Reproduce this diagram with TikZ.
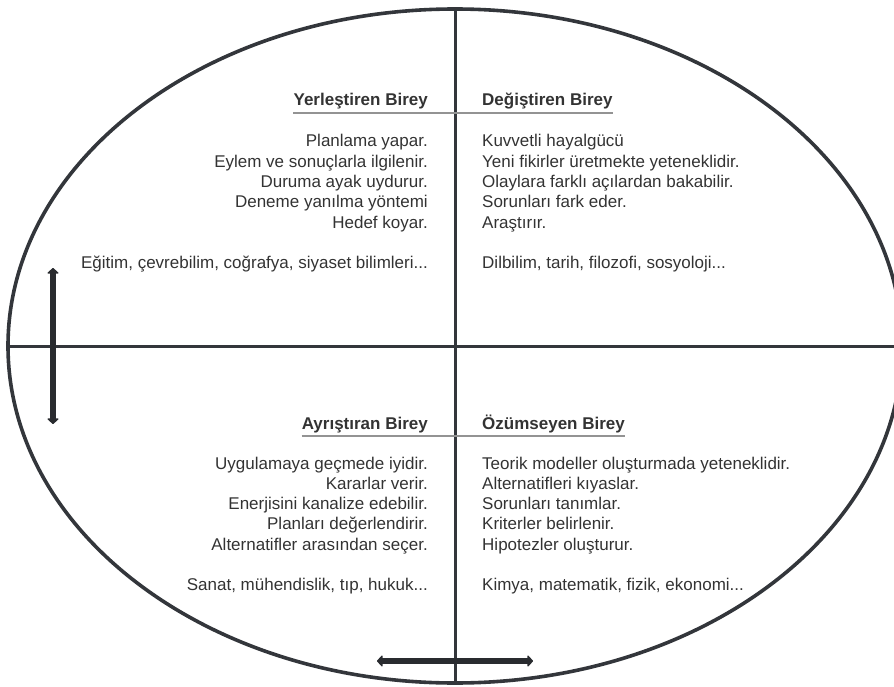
\documentclass[tikz,border=0pt]{standalone}
\usepackage{fontspec}
\setmainfont{Liberation Sans}
\usetikzlibrary{shapes.geometric,arrows.meta,calc}
\definecolor{ink}{HTML}{33363B}
\definecolor{txtgray}{HTML}{333333}
\newcommand{\tdots}{...}
\tikzset{
  hd/.style={font=\fontsize{17}{20}\selectfont\bfseries, text=txtgray, inner sep=0pt},
  txt/.style={font=\fontsize{17}{20}\selectfont, text=txtgray, inner sep=0pt},
  uline/.style={draw=gray!85, line width=1.5pt},
  axis/.style={draw=ink, line width=3pt},
  bar/.style={draw=ink!80!black, line width=6pt, {Triangle[round,length=6pt,width=13pt]}-{Triangle[round,length=6pt,width=13pt]}}
}
\begin{document}
\begin{tikzpicture}[x=1pt,y=-1pt]
		\useasboundingbox (0,0) rectangle (894,687);
		\clip (0,0) rectangle (894,687);
		\node[ellipse, draw=ink, line width=3.6pt, inner sep=0pt, minimum width=894pt, minimum height=674pt] (oval) at (455,346) {};
		\draw[axis] (oval.north) -- (oval.south);
		\draw[axis] (oval.west) -- (oval.east);
		% top quadrants
		\node[hd, anchor=base east] (hYer) at (428,106) {Yerleştiren Birey};
		\node[hd, anchor=base west] (hDeg) at (482,106) {Değiştiren Birey};
		\draw[uline] ($(hYer.base west)+(0,7)$) -- ($(oval.north)!(hYer.base west)!(oval.south)+(0,7)$);
		\draw[uline] ($(oval.north)!(hDeg.base east)!(oval.south)+(0,7)$) -- ($(hDeg.base east)+(0,7)$);
		\foreach \t [count=\i] in {Planlama yapar., Eylem ve sonuçlarla ilgilenir., Duruma ayak uydurur., Deneme yanılma yöntemi, Hedef koyar., {}, {Eğitim, çevrebilim, coğrafya, siyaset bilimleri\tdots}}
			\node[txt, anchor=base east] (yer\i) at (428,{147+20.3*(\i-1)}) {\t};
		\foreach \t [count=\i] in {Kuvvetli hayalgücü, Yeni fikirler üretmekte yeteneklidir., Olaylara farklı açılardan bakabilir., Sorunları fark eder., Araştırır., {}, {Dilbilim, tarih, filozofi, sosyoloji\tdots}}
			\node[txt, anchor=base west] (deg\i) at (482,{147+20.3*(\i-1)}) {\t};
		% bottom quadrants
		\node[hd, anchor=base east] (hAyr) at (428,429) {Ayrıştıran Birey};
		\node[hd, anchor=base west] (hOzu) at (482,429) {Özümseyen Birey};
		\draw[uline] ($(hAyr.base west)+(0,7)$) -- ($(oval.north)!(hAyr.base west)!(oval.south)+(0,7)$);
		\draw[uline] ($(oval.north)!(hOzu.base east)!(oval.south)+(0,7)$) -- ($(hOzu.base east)+(0,7)$);
		\foreach \t [count=\i] in {Uygulamaya geçmede iyidir., Kararlar verir., Enerjisini kanalize edebilir., Planları değerlendirir., Alternatifler arasından seçer., {}, {Sanat, mühendislik, tıp, hukuk\tdots}}
			\node[txt, anchor=base east] (ayr\i) at (428,{469+20.3*(\i-1)}) {\t};
		\foreach \t [count=\i] in {Teorik modeller oluşturmada yeteneklidir., Alternatifleri kıyaslar., Sorunları tanımlar., Kriterler belirlenir., Hipotezler oluşturur., {}, {Kimya, matematik, fizik, ekonomi\tdots}}
			\node[txt, anchor=base west] (ozu\i) at (482,{469+20.3*(\i-1)}) {\t};
		% double arrows
		\coordinate (upL) at (53,268);
		\coordinate (dnL) at (53,424);
		\coordinate (lfB) at (377,661);
		\coordinate (rtB) at (533,661);
		\draw[bar] (upL) -- (dnL);
		\draw[bar] (lfB) -- (rtB);
	\end{tikzpicture}
\end{document}
